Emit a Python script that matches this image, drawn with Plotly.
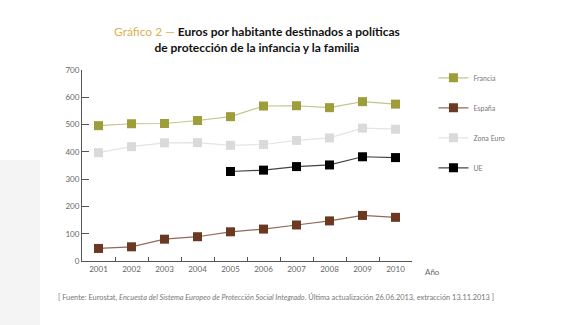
import plotly.graph_objects as go

years = ["2001", "2002", "2003", "2004", "2005", "2006", "2007", "2008", "2009", "2010"]
francia = [496, 503, 504, 515, 529, 568, 569, 562, 584, 575]
espana = [46, 52, 80, 89, 107, 117, 132, 147, 167, 160]
zona_euro = [397, 419, 433, 434, 424, 427, 442, 451, 487, 483]
ue_years = ["2005", "2006", "2007", "2008", "2009", "2010"]
ue = [328, 333, 346, 352, 382, 379]
y_ticks = [0, 100, 200, 300, 400, 500, 600, 700]

FONT = "Lato"
fig = go.Figure()

series = [
    ("Francia", years, francia, "#9d9d3a", "#c4c48e"),
    ("España", years, espana, "#6b3822", "#8e6a5a"),
    ("Zona Euro", years, zona_euro, "#dadada", "#e4e4e4"),
    ("UE", ue_years, ue, "#000000", "#444444"),
]
for i, (name, xs, ys, mc, lc) in enumerate(series):
    fig.add_trace(go.Scatter(
        x=xs, y=ys, name=name, mode="lines+markers",
        line=dict(color=lc, width=1.2),
        marker=dict(symbol="square", size=9, color=mc),
        legendgroup=f"g{i}",
    ))

# light paper texture on the left
fig.add_shape(type="rect", xref="paper", yref="paper",
              x0=-82/330, x1=-42/330, y0=-64/191, y1=(261-160)/191,
              fillcolor="#f4f4f4", line=dict(width=0), layer="below")

fig.update_layout(
    width=570, height=325,
    margin=dict(l=82, r=158, t=70, b=64),
    paper_bgcolor="white", plot_bgcolor="white",
    font=dict(family=FONT, color="#555555", size=8),
    showlegend=True,
    legend=dict(x=1.065, xanchor="left", y=1.035, yanchor="top",
                font=dict(size=7, color="#777777"),
                tracegroupgap=11, itemwidth=30,
                bgcolor="rgba(0,0,0,0)"),
    xaxis=dict(type="category", range=[-0.5, 9.5], showgrid=False,
               showline=True, linecolor="#555555", linewidth=1,
               ticks="inside", ticklen=4, tickcolor="#555555",
               tickson="boundaries",
               tickfont=dict(size=8, color="#666666")),
    yaxis=dict(range=[0, 700], tickvals=y_ticks, showgrid=False,
               zeroline=False,
               showline=True, linecolor="#555555", linewidth=1,
               ticks="inside", ticklen=7, tickcolor="#555555",
               tickfont=dict(size=8, color="#666666")),
)

fig.add_annotation(
    xref="paper", yref="paper", x=(257-82)/330, y=(261-39)/191,
    xanchor="center", yanchor="middle", showarrow=False,
    text=("<span style='color:#ddb050'>Gráfico 2 — </span>"
          "<b>Euros por habitante destinados a políticas</b><br>"
          "<b>de protección de la infancia y la familia</b>"),
    font=dict(family=FONT, size=12, color="#111111"),
    align="center",
)
fig.add_annotation(
    xref="paper", yref="paper", x=(423-82)/330, y=(261-272)/191,
    xanchor="left", yanchor="middle", showarrow=False,
    text="Año", font=dict(family=FONT, size=8, color="#666666"),
)
fig.add_annotation(
    xref="paper", yref="paper", x=(56-82)/330, y=(261-297)/191,
    xanchor="left", yanchor="middle", showarrow=False,
    text=("[ Fuente: Eurostat, <i>Encuesta del Sistema Europeo de Protección Social Integrado</i>. "
          "Última actualización 26.06.2013, extracción 13.11.2013 ]"),
    font=dict(family=FONT, size=7.4, color="#777777"),
)

fig.write_html("out.html")
